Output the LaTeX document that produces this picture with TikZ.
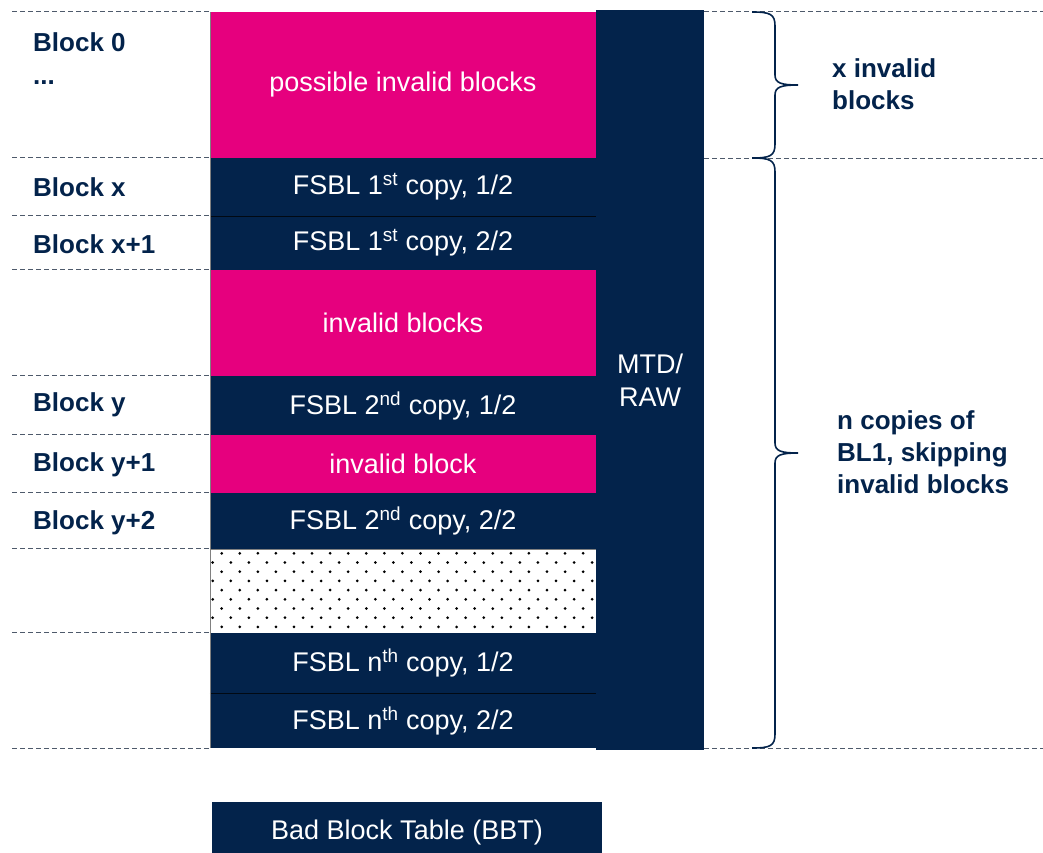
\documentclass[tikz,border=0pt]{standalone}
\usepackage{fontspec}
\setmainfont{Liberation Sans}
\definecolor{stnavy}{HTML}{03234B}
\definecolor{stpink}{HTML}{E6007E}

\begin{document}
\begin{tikzpicture}[x=1pt, y=-1pt,
    blk/.style={fill=stnavy, text=white, inner sep=0pt, minimum width=386pt, font=\fontsize{27}{33}\selectfont},
    badblk/.style={blk, fill=stpink},
    lbl/.style={anchor=west, text=stnavy, align=left, inner sep=0pt, font=\fontsize{26}{32}\selectfont\bfseries},
    gridline/.style={draw=gray!60!stnavy, dash pattern=on 5pt off 3pt, line width=1pt},
    sepline/.style={draw=black!75!stnavy, line width=0.8pt},
    bracket/.style={draw=stnavy, line width=1.6pt}]
            \useasboundingbox (0,0) rectangle (1043,852);

            \node[badblk, minimum height=146] (pib) at (403,85) {possible invalid blocks};
            \node[blk, minimum height=58] (c1a) at (403,187) {FSBL 1\textsuperscript{st} copy, 1/2};
            \node[blk, minimum height=54] (c1b) at (403,243) {FSBL 1\textsuperscript{st} copy, 2/2};
            \node[badblk, minimum height=106] (inv1) at (403,323) {invalid blocks};
            \node[blk, minimum height=59] (c2a) at (403,405.5) {FSBL 2\textsuperscript{nd} copy, 1/2};
            \node[badblk, minimum height=58] (inv2) at (403,464) {invalid block};
            \node[blk, minimum height=56] (c2b) at (403,521) {FSBL 2\textsuperscript{nd} copy, 2/2};
            \node[blk, fill=white, draw=gray, line width=0.8pt, minimum height=84] (gap) at (403,591) {};
            \node[blk, minimum height=60] (cna) at (403,663) {FSBL n\textsuperscript{th} copy, 1/2};
            \node[blk, minimum height=55] (cnb) at (403,720.5) {FSBL n\textsuperscript{th} copy, 2/2};
            \node[blk, minimum width=108, minimum height=740, align=center] (mtd) at (650,380) {MTD/\\RAW};
            \node[blk, minimum width=390, minimum height=60] (bbt) at (407,832) {Bad Block Table (BBT)};

            \begin{scope}
                \clip (gap.north west) rectangle (gap.south east);
                \foreach \k in {0,...,8}
                    \foreach \j in {0,...,21}
                        \fill ({221.7+18.07*\j-9*mod(\k,2)},{553.3+9.2*\k}) circle (1.5pt);
            \end{scope}

            \draw[sepline] (c1a.south west) -- (c1a.south east);
            \draw[sepline] (cna.south west) -- (cna.south east);
            \draw[gray, line width=0.6pt] (pib.north west) -- (cnb.south west);

            \coordinate (leftedge) at (12,0);
            \coordinate (rightedge) at (1043,0);
            \foreach \n in {pib.north west, c1a.north west, c1b.north west, inv1.north west, c2a.north west,
                            inv2.north west, c2b.north west, gap.north west, cna.north west, cnb.south west}
                \draw[gridline] (leftedge |- \n) -- (\n);
            \draw[gridline] (mtd.east |- pib.north) -- (rightedge |- pib.north);
            \draw[gridline] (mtd.east |- pib.south) -- (rightedge |- pib.south);
            \draw[gridline] (mtd.east |- cnb.south) -- (rightedge |- cnb.south);

            \draw[bracket] (752,12) .. controls (770,12) and (775,14) .. (775,26) -- (775,75)
                .. controls (775,83) and (781,85) .. (798,85)
                .. controls (781,85) and (775,87) .. (775,95) -- (775,144)
                .. controls (775,156) and (770,158) .. (752,158);
            \draw[bracket] (752,158) .. controls (770,158) and (775,160) .. (775,172) -- (775,443)
                .. controls (775,451) and (781,453) .. (798,453)
                .. controls (781,453) and (775,455) .. (775,463) -- (775,734)
                .. controls (775,746) and (770,748) .. (752,748);

            \node[lbl] (l0) at (33,42) {Block 0};
            \node[lbl] (ldots) at (33,83) {...};
            \node[lbl] (lx) at (33,187) {Block x};
            \node[lbl] (lx1) at (33,244) {Block x+1};
            \node[lbl] (ly) at (33,405) {Block y};
            \node[lbl] (ly1) at (33,465) {Block y+1};
            \node[lbl] (ly2) at (33,523) {Block y+2};
            \node[lbl] (rx) at (832,84) {x invalid\\blocks};
            \node[lbl] (rn) at (837,452) {n copies of\\BL1, skipping\\invalid blocks};
        \end{tikzpicture}
\end{document}
